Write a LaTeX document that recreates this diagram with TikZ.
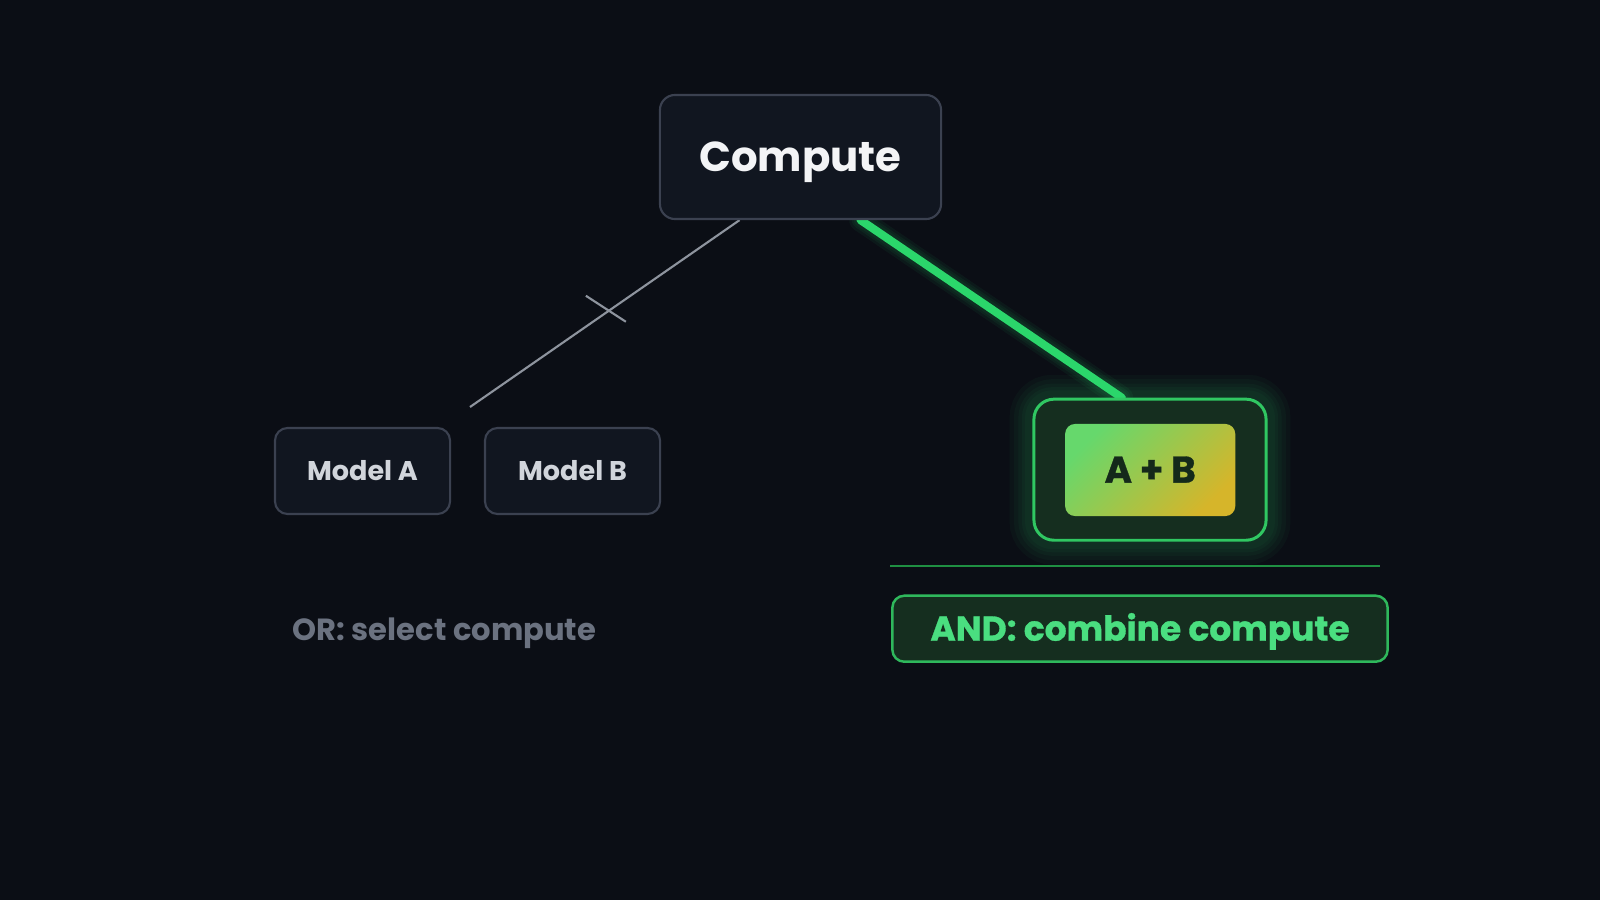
\documentclass[tikz,border=0pt]{standalone}
\usepackage{fontspec}
\setmainfont{Poppins}
\newfontfamily\heavyfont{Poppins}[BoldFeatures={FakeBold=0.9}]
\usetikzlibrary{positioning,calc}
\definecolor{bgdark}{HTML}{0B0E15}
\definecolor{cardfill}{HTML}{111620}
\definecolor{cardedge}{HTML}{3B4150}
\definecolor{titletext}{HTML}{F3F4F6}
\definecolor{modeltext}{HTML}{D1D5DB}
\definecolor{greyline}{HTML}{8E949E}
\definecolor{ordim}{HTML}{6B7280}
\definecolor{linkgreen}{HTML}{2BD66B}
\definecolor{abfill}{HTML}{152E1F}
\definecolor{abedge}{HTML}{30C762}
\definecolor{gradgreen}{HTML}{66D86C}
\definecolor{gradyellow}{HTML}{D6B52A}
\definecolor{abtext}{HTML}{14291A}
\definecolor{sepgreen}{HTML}{1F8F42}
\definecolor{andedge}{HTML}{2FB85C}
\definecolor{andtext}{HTML}{4ADE80}
\pgfdeclarelayer{back}
\pgfdeclarelayer{glow}
\pgfsetlayers{back,glow,main}
\begin{document}
\begin{tikzpicture}[x=0.01cm,y=-0.01cm,
	card/.style={draw=cardedge,fill=cardfill,line width=0.6pt,rounded corners=3.6pt,inner sep=0pt,text depth=0pt},
	modelcard/.style={card,minimum width=1.75cm,minimum height=0.86cm,text=modeltext,
		font=\fontsize{7.7}{9}\selectfont\bfseries,text height=5.5pt},
	greenbox/.style={draw=abedge,fill=abfill,inner sep=0pt,text depth=0pt}]
	\begin{pgfonlayer}{back}
	\fill[bgdark] (0,0) rectangle (1600,900);
	\end{pgfonlayer}
	\node[card,minimum width=2.81cm,minimum height=1.24cm,rounded corners=4.3pt,text=titletext,
		font=\fontsize{11.9}{14}\selectfont\bfseries,text height=8.4pt] (compute) at (800.5,157) {Compute};
	\node[modelcard] (modela) at (362.5,471) {Model A};
	\node[modelcard] (modelb) at (572.5,471) {Model B};
	\node[greenbox,line width=0.85pt,rounded corners=5.7pt,minimum width=2.32cm,minimum height=1.41cm] (abouter) at (1150,469.7) {};
	\node[inner sep=0pt,minimum width=1.70cm,minimum height=0.92cm,rounded corners=2.8pt,
		top color=gradgreen,bottom color=gradyellow,shading angle=45,text=abtext,
		font=\heavyfont\fontsize{10.6}{13}\selectfont\bfseries,text height=7.2pt,text depth=0pt] (abinner) at (1150.2,470) {A + B};
	\node[greenbox,draw=andedge,line width=0.7pt,rounded corners=3.4pt,minimum width=4.95cm,minimum height=0.66cm,
		text=andtext,font=\heavyfont\fontsize{9.8}{12}\selectfont\bfseries,text height=6.8pt] (andbox) at (1140,628.7) {AND: combine compute};
	\node[anchor=base west,inner sep=0pt,text=ordim,font=\fontsize{8.7}{11}\selectfont\bfseries] (orlabel) at (292,640) {OR: select compute};
	% end points of the two links
	\coordinate (gstart) at ($(compute.south west)!0.285!(compute.south east)$);
	\coordinate (gend) at (470,407);
	\coordinate (cut) at ($(gstart)!0.485!(gend)$);
	\coordinate (lstart) at ($(compute.south west)!0.712!(compute.south east)$);
	\coordinate (lend) at ($(abouter.north west)!0.38!(abouter.north east)$);
	\begin{pgfonlayer}{glow}
	\foreach \w in {13,10.5,8,6,4.2}
		\draw[linkgreen,line width=\w pt,opacity=0.04,rounded corners=5.7pt] (abouter.south west) rectangle (abouter.north east);
	\foreach \w in {6.5,5,3.8}
		\draw[linkgreen,line width=\w pt,opacity=0.06,line cap=round] (lstart) -- (lend);
	\draw[linkgreen,line width=2.3pt,line cap=round] (lstart) -- (lend);
	\draw[greyline,line width=0.6pt] (gstart) -- (gend);
	\draw[greyline,line width=0.6pt] ($(cut)+(-23,-15)$) -- ($(cut)+(17,11)$);
	\end{pgfonlayer}
	\draw[sepgreen,line width=0.45pt] (890,566) -- (1380,566);
\end{tikzpicture}
\end{document}
